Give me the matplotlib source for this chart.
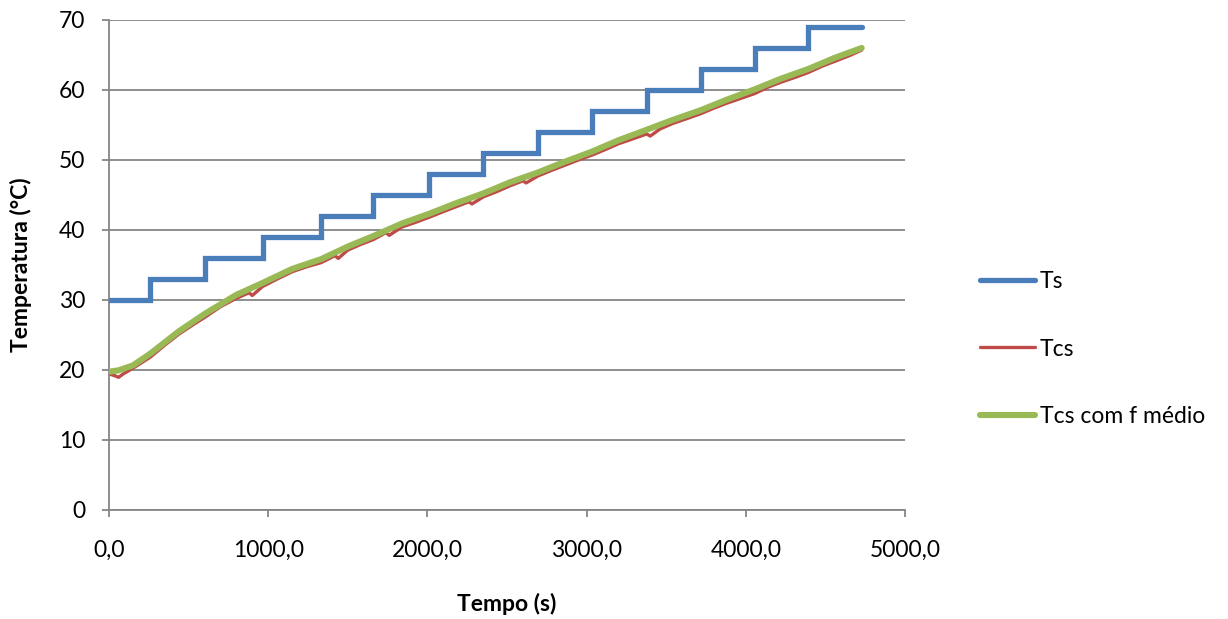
import matplotlib
matplotlib.use("Agg")
import matplotlib.pyplot as plt

# Ts step profile (time of each level start, level)
ts_time = [0, 260, 260, 603, 603, 965, 965, 1332, 1332, 1660, 1660, 2012, 2012,
           2351, 2351, 2695, 2695, 3036, 3036, 3377, 3377, 3717, 3717, 4058, 4058,
           4393, 4393, 4728]
ts_temp = [30, 30, 33, 33, 36, 36, 39, 39, 42, 42, 45, 45, 48,
           48, 51, 51, 54, 54, 57, 57, 60, 60, 63, 63, 66,
           66, 69, 69]

# Tcs (measured)
tcs_time = [0, 40, 60, 90, 150, 260, 350, 440, 520, 603, 700, 800, 880, 900, 965,
            1060, 1150, 1240, 1332, 1420, 1440, 1500, 1580, 1660, 1740, 1760, 1840,
            1930, 2012, 2100, 2180, 2260, 2280, 2351, 2440, 2520, 2600, 2620, 2695,
            2780, 2860, 2950, 3036, 3120, 3200, 3290, 3377, 3400, 3460, 3540, 3630,
            3717, 3800, 3880, 3970, 4058, 4140, 4220, 4310, 4393, 4480, 4560, 4650, 4728]
tcs_temp = [19.4, 19.1, 18.9, 19.4, 20.2, 21.8, 23.5, 25.1, 26.3, 27.5, 29.0, 30.2, 31.0, 30.6, 31.9,
            33.0, 34.0, 34.7, 35.3, 36.3, 35.9, 37.1, 37.9, 38.6, 39.6, 39.2, 40.4,
            41.1, 41.8, 42.6, 43.3, 44.0, 43.7, 44.7, 45.5, 46.3, 47.0, 46.7, 47.7,
            48.5, 49.2, 50.0, 50.7, 51.5, 52.3, 53.0, 53.7, 53.4, 54.4, 55.2, 55.9,
            56.6, 57.4, 58.1, 58.8, 59.5, 60.4, 61.1, 61.8, 62.5, 63.4, 64.1, 64.9, 65.7]

# Tcs com f medio
tcsf_time = [0, 60, 150, 260, 440, 603, 800, 965, 1150, 1332, 1500, 1660, 1840, 2012,
             2180, 2351, 2520, 2695, 2860, 3036, 3200, 3377, 3540, 3717, 3880, 4058,
             4220, 4393, 4560, 4728]
tcsf_temp = [19.7, 19.9, 20.6, 22.3, 25.5, 28.0, 30.7, 32.4, 34.4, 35.8, 37.6, 39.1, 40.9, 42.3,
             43.8, 45.2, 46.8, 48.2, 49.7, 51.2, 52.8, 54.3, 55.7, 57.1, 58.6, 60.1,
             61.6, 63.0, 64.6, 66.0]

x_ticks = [0, 1000, 2000, 3000, 4000, 5000]
x_tick_labels = ["0,0", "1000,0", "2000,0", "3000,0", "4000,0", "5000,0"]
y_ticks = [0, 10, 20, 30, 40, 50, 60, 70]

plt.rcParams['font.family'] = ['Lato', 'DejaVu Sans']

fig = plt.figure(figsize=(12.28, 6.19), dpi=100)
ax = fig.add_axes([109/1228, 1 - 509.5/619, (905-109)/1228, (509.5-20)/619])

grid_c = "#868686"
fs = 16.5
ax.plot(ts_time, ts_temp, color="#4A7EBB", lw=3.8, solid_capstyle="round",
        solid_joinstyle="miter", label="Ts", zorder=3)
ax.plot(tcs_time, tcs_temp, color="#BE4B48", lw=2.4, solid_capstyle="round",
        label="Tcs", zorder=4)
ax.plot(tcsf_time, tcsf_temp, color="#98B954", lw=4.4, solid_capstyle="round",
        label="Tcs com f médio", zorder=5)

ax.set_xlim(0, 5000)
ax.set_ylim(0, 70)
ax.set_xticks(x_ticks)
ax.set_xticklabels(x_tick_labels)
ax.set_yticks(y_ticks)
ax.yaxis.grid(True, color=grid_c, lw=1.3)
ax.set_axisbelow(True)
for s in ["top", "right"]:
    ax.spines[s].set_visible(False)
for s in ["left", "bottom"]:
    ax.spines[s].set_color(grid_c)
    ax.spines[s].set_linewidth(1.3)
ax.tick_params(axis="both", colors=grid_c, length=5, width=1.3, labelsize=fs,
               labelcolor="black")
ax.tick_params(axis="x", pad=17)
ax.tick_params(axis="y", pad=12)

ax.set_xlabel("Tempo (s)", fontsize=fs, fontweight="bold", labelpad=23)
ax.set_ylabel("Temperatura (°C)", fontsize=fs, fontweight="bold", labelpad=19)

fig.legend(loc="center left", bbox_to_anchor=(980/1228, 1 - 349/619), frameon=False,
           fontsize=fs, handlelength=2.4, handletextpad=0.2, labelspacing=2.05,
           borderpad=0, borderaxespad=0)

fig.savefig("out.png", dpi=100)
